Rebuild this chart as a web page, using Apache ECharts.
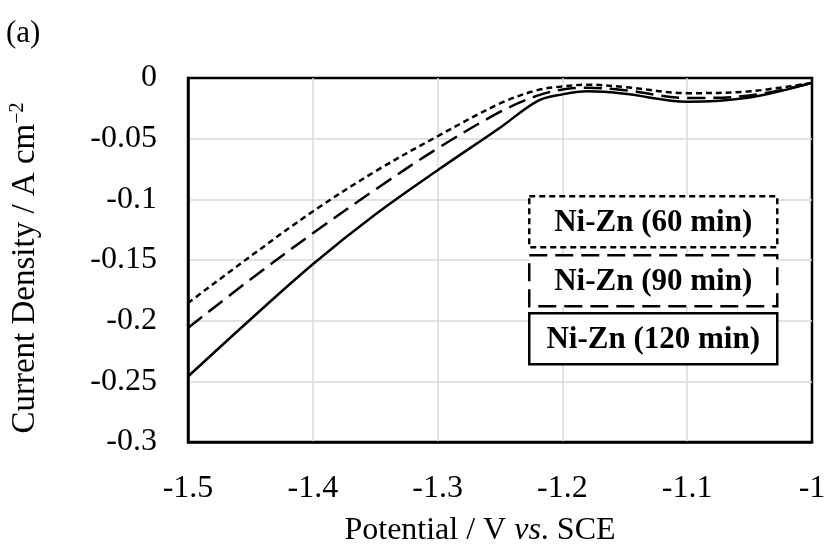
<!DOCTYPE html>
<html><head><meta charset="utf-8">
<script src="https://cdn.jsdelivr.net/npm/echarts@6/dist/echarts.min.js"></script>
<style>html,body{margin:0;padding:0;background:#fff}#c{width:825px;height:547px}</style>
</head><body><div id="c"></div>
<script>
const potential = [-1.5, -1.45, -1.4, -1.35, -1.3, -1.25, -1.22, -1.2, -1.18, -1.15, -1.1, -1.05, -1.0];
const niZn60 = [-0.1855, -0.147, -0.110, -0.077, -0.048, -0.021, -0.010, -0.007, -0.0055, -0.0075, -0.0125, -0.011, -0.004];
const niZn90 = [-0.206, -0.166, -0.128, -0.092, -0.058, -0.028, -0.0145, -0.0095, -0.008, -0.010, -0.0165, -0.0145, -0.004];
const niZn120 = [-0.246, -0.199, -0.1535, -0.1125, -0.076, -0.041, -0.019, -0.0135, -0.011, -0.013, -0.0195, -0.016, -0.004];
const seriesNames = ['Ni-Zn (60 min)', 'Ni-Zn (90 min)', 'Ni-Zn (120 min)'];
const xTicks = [-1.5, -1.4, -1.3, -1.2, -1.1, -1.0];
const yTicks = [0, -0.05, -0.1, -0.15, -0.2, -0.25, -0.3];

const font = '"Liberation Serif", "Times New Roman", serif';
const pair = (ys) => potential.map((x, i) => [x, ys[i]]);
const chart = echarts.init(document.getElementById('c'), null, {renderer: 'canvas'});

function legendBox(top, name, dash) {
  return {
    type: 'group', left: 528, top: top, z: 100,
    children: [
      {type: 'rect', z: 100, shape: {x: 0, y: 0, width: 248, height: 51},
       style: {fill: '#fff', stroke: '#000', lineWidth: 2.5, lineDash: dash}},
      {type: 'text', z: 101, style: {x: 124, y: 27, text: name, align: 'center', verticalAlign: 'middle',
        font: 'bold 31px ' + font, fill: '#000'}}
    ]
  };
}

chart.setOption({
  animation: false,
  backgroundColor: '#fff',
  grid: {left: 188, right: 13, top: 78, bottom: 105, outerBoundsMode: 'none', containLabel: false,
    show: true, borderColor: '#000', borderWidth: 2.5, backgroundColor: 'transparent'},
  xAxis: {
    type: 'value', min: -1.5, max: -1.0, interval: 0.1,
    axisLine: {show: true, onZero: false, lineStyle: {color: '#000', width: 2.5}},
    axisTick: {show: false},
    splitLine: {show: true, showMinLine: false, showMaxLine: false, lineStyle: {color: '#d9d9d9', width: 1.5}},
    axisLabel: {color: '#000', fontSize: 32, fontFamily: font, margin: 31,
      formatter: v => { const r = Math.round(v * 10) / 10; return r === -1 ? '-1' : String(r); }},
    name: '{a|Potential / V }{i|vs}{a|. SCE}', nameLocation: 'middle', nameGap: 73,
    nameTextStyle: {padding: [0, 40, 0, 0], rich: {a: {fontSize: 32, fontFamily: font, color: '#000'}, i: {fontSize: 32, fontFamily: font, fontStyle: 'italic', color: '#000'}}}
  },
  yAxis: {
    type: 'value', min: -0.3, max: 0, interval: 0.05,
    axisLine: {show: true, onZero: false, lineStyle: {color: '#000', width: 2.5}},
    axisTick: {show: false},
    splitLine: {show: true, showMinLine: false, showMaxLine: false, lineStyle: {color: '#d9d9d9', width: 1.5}},
    axisLabel: {color: '#000', fontSize: 32, fontFamily: font, margin: 31,
      formatter: v => { const r = Math.round(v * 100) / 100; return r === 0 ? '0' : String(r); }},
    name: '{a|Current Density / A cm}{s|−2}', nameLocation: 'middle', nameGap: 146,
    nameTextStyle: {padding: [0, 16, 0, 0], rich: {a: {fontSize: 33, fontFamily: font, color: '#000'}, s: {fontSize: 20, fontFamily: font, color: '#000', padding: [0, 0, 14, 0]}}}
  },
  series: [
    {name: seriesNames[0], type: 'line', data: pair(niZn60), smooth: 0.35, symbol: 'none',
     lineStyle: {color: '#000', width: 2.5, type: [6, 4]}},
    {name: seriesNames[1], type: 'line', data: pair(niZn90), smooth: 0.35, symbol: 'none',
     lineStyle: {color: '#000', width: 2.5, type: [18, 8]}},
    {name: seriesNames[2], type: 'line', data: pair(niZn120), smooth: 0.35, symbol: 'none',
     lineStyle: {color: '#000', width: 2.5}}
  ],
  graphic: [
    {type: 'text', left: 6, top: 18, style: {text: '(a)', font: '31px ' + font, fill: '#000'}},
    legendBox(195, seriesNames[0], [6, 4]),
    legendBox(254, seriesNames[1], [18, 8]),
    legendBox(312, seriesNames[2], null)
  ]
});
</script></body></html>
